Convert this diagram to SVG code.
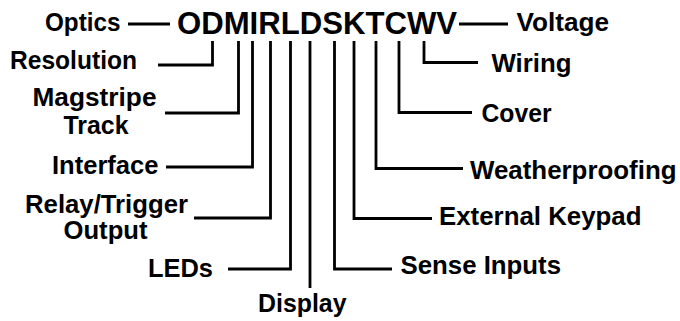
<svg xmlns="http://www.w3.org/2000/svg" width="680" height="321" viewBox="0 0 680 321">
<style>
.lbl{font-family:"Liberation Sans",Arial,sans-serif;font-weight:bold;font-size:25.5px;fill:#000}
.code{font-family:"Liberation Sans",Arial,sans-serif;font-weight:bold;font-size:32px;fill:#000}
.ln{fill:none;stroke:#000;stroke-width:2.8;stroke-linejoin:miter;stroke-linecap:butt}
</style>
<rect width="680" height="321" fill="#fff"/>
<g id="code"><text class="code" x="177" y="33.5" textLength="280" lengthAdjust="spacingAndGlyphs">ODMIRLDSKTCWV</text></g>
<g id="connectors">
<path class="ln" d="M128,24H170"/>
<path class="ln" d="M459,24H508"/>
<path class="ln" d="M212.5,41V65H158"/>
<path class="ln" d="M238.5,41V113H165"/>
<path class="ln" d="M252.5,41V167H166"/>
<path class="ln" d="M270.5,41V218H194"/>
<path class="ln" d="M290.5,41V269H228"/>
<path class="ln" d="M310,41V288"/>
<path class="ln" d="M334.5,41V269H392"/>
<path class="ln" d="M354,41V218.5H432"/>
<path class="ln" d="M376,41V168.5H463"/>
<path class="ln" d="M399,41V112.5H472"/>
<path class="ln" d="M424,41V62.5H478"/>
</g>
<g id="optics"><text class="lbl" x="45" y="30.5" textLength="75.5" lengthAdjust="spacingAndGlyphs">Optics</text></g>
<g id="resolution"><text class="lbl" x="10" y="68.5" textLength="127" lengthAdjust="spacingAndGlyphs">Resolution</text></g>
<g id="magstripe"><text class="lbl" x="32.5" y="106" textLength="124" lengthAdjust="spacingAndGlyphs">Magstripe</text><text class="lbl" x="63.5" y="134" textLength="65" lengthAdjust="spacingAndGlyphs">Track</text></g>
<g id="interface"><text class="lbl" x="52" y="173.5" textLength="106.5" lengthAdjust="spacingAndGlyphs">Interface</text></g>
<g id="relay"><text class="lbl" x="25" y="213" textLength="163" lengthAdjust="spacingAndGlyphs">Relay/Trigger</text><text class="lbl" x="63.5" y="238.5" textLength="84" lengthAdjust="spacingAndGlyphs">Output</text></g>
<g id="leds"><text class="lbl" x="148" y="276.5" textLength="65" lengthAdjust="spacingAndGlyphs">LEDs</text></g>
<g id="display"><text class="lbl" x="258" y="312" textLength="88.5" lengthAdjust="spacingAndGlyphs">Display</text></g>
<g id="sense"><text class="lbl" x="400.5" y="274" textLength="160.5" lengthAdjust="spacingAndGlyphs">Sense Inputs</text></g>
<g id="keypad"><text class="lbl" x="439" y="224.5" textLength="202.5" lengthAdjust="spacingAndGlyphs">External Keypad</text></g>
<g id="weather"><text class="lbl" x="470" y="178.5" textLength="206.5" lengthAdjust="spacingAndGlyphs">Weatherproofing</text></g>
<g id="cover"><text class="lbl" x="481.5" y="121.5" textLength="70" lengthAdjust="spacingAndGlyphs">Cover</text></g>
<g id="wiring"><text class="lbl" x="491.5" y="71.5" textLength="80" lengthAdjust="spacingAndGlyphs">Wiring</text></g>
<g id="voltage"><text class="lbl" x="516.5" y="30.5" textLength="92.5" lengthAdjust="spacingAndGlyphs">Voltage</text></g>
</svg>
